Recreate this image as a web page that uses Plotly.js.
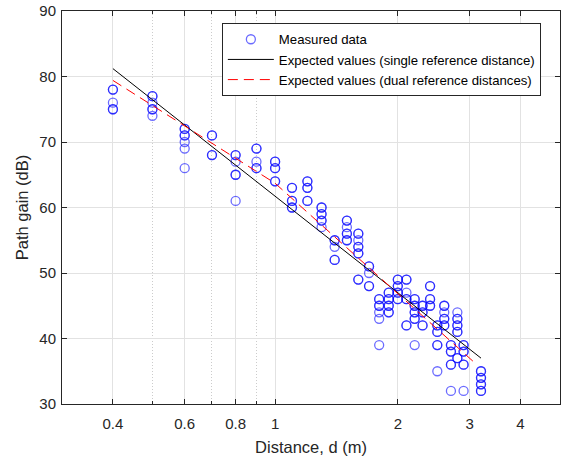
<!DOCTYPE html>
<html>
<head>
<meta charset="utf-8">
<script src="https://cdn.plot.ly/plotly-3.0.1.min.js"></script>
<style>
  html, body { margin: 0; padding: 0; background: #fff; }
  #chart { width: 565px; height: 456px; }
</style>
</head>
<body>
<div id="chart"></div>
<script>
// Measured data (repeated values = overlapping measurements)
var measDist = [
  0.4,0.4,0.4,0.4,0.4,
  0.5,0.5,0.5,0.5,0.5,0.5,
  0.6,0.6,0.6,0.6,0.6,0.6,0.6,
  0.7,0.7,0.7,0.7,
  0.8,0.8,0.8,0.8,0.8,0.8,
  0.9,0.9,0.9,0.9,0.9,
  1.0,1.0,1.0,1.0,1.0,1.0,
  1.1,1.1,1.1,1.1,1.1,1.1,
  1.2,1.2,1.2,1.2,1.2,1.2,
  1.3,1.3,1.3,1.3,1.3,1.3,1.3,
  1.4,1.4,1.4,1.4,1.4,
  1.5,1.5,1.5,1.5,1.5,1.5,1.5,
  1.6,1.6,1.6,1.6,1.6,1.6,1.6,1.6,1.6,
  1.7,1.7,1.7,1.7,1.7,
  1.8,1.8,1.8,1.8,1.8,1.8,1.8,
  1.9,1.9,1.9,1.9,1.9,1.9,1.9,1.9,
  2.0,2.0,2.0,2.0,2.0,2.0,2.0,2.0,
  2.1,2.1,2.1,2.1,2.1,2.1,2.1,
  2.2,2.2,2.2,2.2,2.2,2.2,2.2,2.2,2.2,
  2.3,2.3,2.3,2.3,2.3,2.3,
  2.4,2.4,2.4,2.4,2.4,2.4,
  2.5,2.5,2.5,2.5,2.5,2.5,2.5,
  2.6,2.6,2.6,2.6,2.6,2.6,2.6,
  2.7,2.7,2.7,2.7,2.7,2.7,2.7,
  2.8,2.8,2.8,2.8,2.8,2.8,2.8,2.8,2.8,
  2.9,2.9,2.9,2.9,2.9,2.9,2.9,
  3.2,3.2,3.2,3.2,3.2,3.2,3.2,3.2
];
var measGain = [
  78,78,76,75,75,
  77,77,76,75,75,74,
  72,72,71,71,70,69,66,
  71,71,68,68,
  68,68,67,65,65,61,
  69,69,67,66,66,
  67,67,66,66,64,64,
  63,63,61,61,60,60,
  64,64,63,63,61,61,
  60,60,59,59,58,58,57,
  55,55,54,52,52,
  58,58,57,56,56,55,55,
  56,56,55,54,54,53,53,49,49,
  51,51,50,48,48,
  46,46,45,45,44,43,39,
  47,47,46,46,45,45,44,44,
  49,49,48,48,47,47,46,46,
  49,49,47,46,46,42,42,
  46,46,45,45,44,44,43,43,39,
  45,45,44,44,42,42,
  48,48,46,46,45,45,
  42,42,41,41,39,39,35,
  45,45,44,43,43,42,42,
  39,39,38,38,36,36,32,
  44,43,43,42,42,41,41,37,37,
  39,39,38,38,36,36,32,
  35,35,34,34,33,33,32,32
];

// Expected values, single reference distance
var singleDist = [0.4, 3.2];
var singleGain = [81.2, 37.0];

// Expected values, dual reference distances
var dualDist = [0.4, 1.0, 3.1];
var dualGain = [79.4, 63.7, 36.2];

// Axis ticks
var xTickVals = [0.4, 0.6, 0.8, 1, 2, 3, 4];
var xTickText = ['0.4', '0.6', '0.8', '1', '2', '3', '4'];
var xMinorVals = [0.5, 0.7, 0.9];
var yTickVals = [30, 40, 50, 60, 70, 80, 90];

var FONT = 'Liberation Sans, Arial, Helvetica, sans-serif';
var AX = '#262626';

var traces = [
  {
    x: measDist, y: measGain, type: 'scatter', mode: 'markers',
    name: 'Measured data',
    marker: { symbol: 'circle-open', size: 9, color: 'rgba(0,0,255,0.58)', line: { width: 1.3 } }
  },
  {
    x: singleDist, y: singleGain, type: 'scatter', mode: 'lines',
    name: 'Expected values (single reference distance)',
    line: { color: '#000000', width: 1 }
  },
  {
    x: dualDist, y: dualGain, type: 'scatter', mode: 'lines',
    name: 'Expected values (dual reference distances)',
    line: { color: '#ff0000', width: 1, dash: '10px,6px' }
  }
];

var layout = {
  width: 565, height: 456,
  margin: { l: 62, r: 5, t: 11, b: 52 },
  paper_bgcolor: '#ffffff', plot_bgcolor: '#ffffff',
  font: { family: FONT, color: AX, size: 15 },
  showlegend: true,
  xaxis: {
    type: 'log',
    range: [Math.log10(0.3), Math.log10(5)],
    tickmode: 'array', tickvals: xTickVals, ticktext: xTickText,
    ticks: 'inside', ticklen: 5, tickwidth: 1, tickcolor: AX,
    showline: true, linecolor: AX, linewidth: 1, mirror: 'ticks',
    showgrid: true, gridcolor: '#e2e2e2', gridwidth: 1,
    zeroline: false,
    tickfont: { size: 15, color: AX, family: FONT },
    ticklabelstandoff: 6,
    minor: { tickmode: 'array', tickvals: xMinorVals, showgrid: true, griddash: '1px,2px', gridcolor: '#cccccc', gridwidth: 1, ticks: 'inside', ticklen: 3, tickcolor: AX },
    title: { text: 'Distance, d (m)', font: { size: 16.5, color: AX, family: FONT }, standoff: 12 }
  },
  yaxis: {
    range: [30, 90],
    tickmode: 'array', tickvals: yTickVals,
    ticks: 'inside', ticklen: 5, tickwidth: 1, tickcolor: AX,
    showline: true, linecolor: AX, linewidth: 1, mirror: 'ticks',
    showgrid: true, gridcolor: '#e2e2e2', gridwidth: 1,
    zeroline: false,
    tickfont: { size: 15, color: AX, family: FONT },
    ticklabelstandoff: 2,
    title: { text: 'Path gain (dB)', font: { size: 16.5, color: AX, family: FONT }, standoff: 6 }
  },
  legend: {
    x: 0.321, y: 0.969, xanchor: 'left', yanchor: 'top',
    bgcolor: '#ffffff', bordercolor: AX, borderwidth: 1,
    font: { size: 13.2, color: '#000000', family: FONT },
    itemwidth: 46,
    tracegroupgap: 0
  }
};

Plotly.newPlot('chart', traces, layout, { displayModeBar: false, staticPlot: true });
</script>
</body>
</html>
